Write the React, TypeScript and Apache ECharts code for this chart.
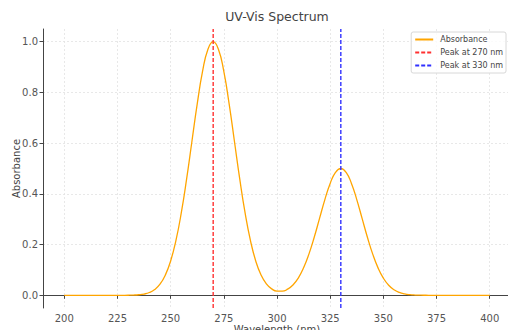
import React, { useEffect, useRef } from "react";
import * as echarts from "echarts";

const wavelengths: number[] = [];
for (let w = 200; w <= 400; w += 2.5) wavelengths.push(w);

const absorbance = [
  0, 0, 0, 0, 0, 0, 0, 0, 0, 0, 0,
  0.0001, 0.0003, 0.0009, 0.0022, 0.0051, 0.0111, 0.0228, 0.0439, 0.0796, 0.1353,
  0.2163, 0.3247, 0.4578, 0.6065, 0.7548, 0.8825, 0.9692, 1.0, 0.9692, 0.8825,
  0.7548, 0.6065, 0.4578, 0.3247, 0.2164, 0.1355, 0.08, 0.045, 0.0253, 0.0167,
  0.0165, 0.0242, 0.0407, 0.068, 0.1083, 0.1624, 0.2289, 0.3033, 0.3774, 0.4413,
  0.4846, 0.5, 0.4846, 0.4413, 0.3774, 0.3033, 0.2289, 0.1624, 0.1082, 0.0677,
  0.0398, 0.022, 0.0114, 0.0056, 0.0025, 0.0011, 0.0004, 0.0002, 0.0001, 0,
  0, 0, 0, 0, 0, 0, 0, 0, 0, 0,
];

const peaks = [270, 330];
const peakNames = ["Peak at 270 nm", "Peak at 330 nm"];
const peakColors = ["#ff3030", "#3030ff"];
const xTicks = [200, 225, 250, 275, 300, 325, 350, 375, 400];
const yTicks = [0, 0.2, 0.4, 0.6, 0.8, 1.0];
const yMin = -0.05;
const yMax = 1.05;

export default function App() {
  const ref = useRef<HTMLDivElement>(null);
  useEffect(() => {
    if (!ref.current) return;
    const chart = echarts.init(ref.current, null, { renderer: "svg" });
    const font = "DejaVu Sans";
    chart.setOption({
      animation: false,
      backgroundColor: "#fff",
      textStyle: { fontFamily: font },
      title: {
        text: "UV-Vis Spectrum",
        left: 277,
        textAlign: "center",
        top: 10,
        padding: 0,
        textStyle: { fontFamily: font, fontSize: 12.5, fontWeight: "normal", color: "#444" },
      },
      grid: { left: 43, right: -3, top: 29, bottom: 22, containLabel: false, outerBoundsMode: "none" },
      legend: {
        orient: "vertical",
        right: 2,
        top: 32,
        data: ["Absorbance", ...peakNames],
        itemWidth: 18,
        itemHeight: 8,
        itemGap: 5,
        padding: [3.5, 3, 3.5, 3],
        backgroundColor: "rgba(255,255,255,0.8)",
        borderColor: "#d8d8d8",
        borderWidth: 1,
        borderRadius: 2,
        itemStyle: { color: "transparent", borderWidth: 0, opacity: 0 },
        textStyle: { fontFamily: font, fontSize: 8, color: "#444", padding: [0, 0, 0, 2] },
      },
      xAxis: {
        type: "value",
        min: 190,
        max: 410,
        name: "Wavelength (nm)",
        nameLocation: "middle",
        nameGap: 16,
        nameMoveOverlap: false,
        nameTextStyle: { fontFamily: font, fontSize: 10, color: "#444", verticalAlign: "top" },
        axisLine: { show: true, lineStyle: { color: "#444", width: 1 } },
        axisTick: { show: true, customValues: xTicks, length: 3.5, lineStyle: { color: "#444" } },
        axisLabel: {
          customValues: xTicks,
          fontFamily: font,
          fontSize: 10,
          color: "#555",
          margin: 5,
        },
        splitLine: { show: true, lineStyle: { color: "#e2e2e2", type: [2, 2], width: 0.8 } },
      },
      yAxis: {
        type: "value",
        min: yMin,
        max: yMax,
        name: "Absorbance",
        nameLocation: "middle",
        nameGap: 22,
        nameMoveOverlap: false,
        nameTextStyle: { fontFamily: font, fontSize: 10, color: "#444" },
        axisLine: { show: true, lineStyle: { color: "#444", width: 1 } },
        axisTick: { show: true, customValues: yTicks, length: 3.5, lineStyle: { color: "#444" } },
        axisLabel: {
          customValues: yTicks,
          fontFamily: font,
          fontSize: 10,
          color: "#555",
          margin: 5,
          formatter: (v: number) => v.toFixed(1),
        },
        splitLine: { show: true, lineStyle: { color: "#e2e2e2", type: [2, 2], width: 0.8 } },
      },
      series: [
        {
          name: "Absorbance",
          type: "line",
          data: wavelengths.map((w, i) => [w, absorbance[i]]),
          smooth: true,
          symbol: "none",
          color: "#FFA500",
          lineStyle: { color: "#FFA500", width: 1.3 },
        },
        ...peaks.map((p, i) => ({
          name: peakNames[i],
          type: "line",
          data: [
            [p, yMin],
            [p, yMax],
          ],
          symbol: "none",
          color: peakColors[i],
          lineStyle: { color: peakColors[i], width: 1.4, type: [4, 2] },
        })),
      ],
    });
    return () => chart.dispose();
  }, []);
  return (
    <div
      ref={ref}
      style={{ position: "fixed", left: 0, top: 0, width: 508, height: 330 }}
    />
  );
}
